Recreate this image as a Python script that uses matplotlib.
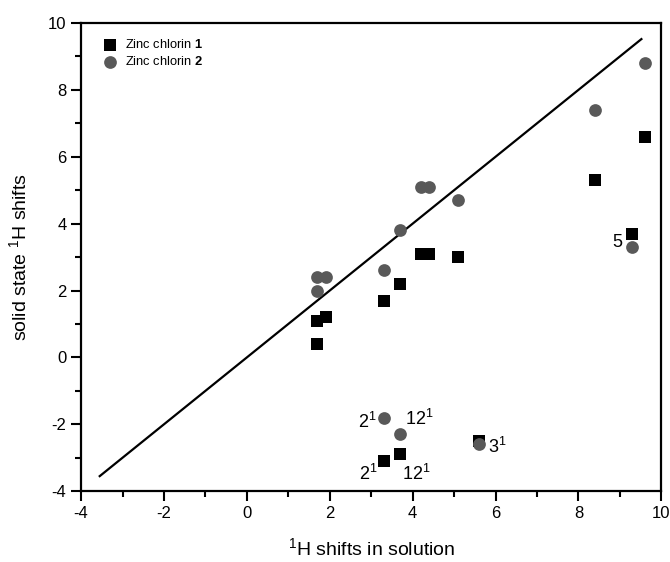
import numpy as np
import matplotlib
matplotlib.use('Agg')
import matplotlib.pyplot as plt

plt.rcParams['font.family'] = ['Liberation Sans', 'DejaVu Sans']
plt.rcParams['mathtext.fontset'] = 'custom'
plt.rcParams['mathtext.rm'] = 'Liberation Sans'
plt.rcParams['mathtext.bf'] = 'Liberation Sans:bold'
plt.rcParams['axes.unicode_minus'] = False

# Zinc chlorin 1 (squares)
x1 = [1.7, 1.7, 1.9, 3.3, 3.7, 4.2, 4.4, 5.1, 8.4, 9.6, 9.3, 3.3, 3.7, 5.6]
y1 = [0.4, 1.1, 1.2, 1.7, 2.2, 3.1, 3.1, 3.0, 5.3, 6.6, 3.7, -3.1, -2.9, -2.5]

# Zinc chlorin 2 (circles)
x2 = [1.7, 1.7, 1.9, 3.3, 3.7, 4.2, 4.4, 5.1, 8.4, 9.6, 9.3, 3.3, 3.7, 5.6]
y2 = [2.0, 2.4, 2.4, 2.6, 3.8, 5.1, 5.1, 4.7, 7.4, 8.8, 3.3, -1.8, -2.3, -2.6]

# y = x reference line range
diag = [-3.55, 9.52]

# labelled points: (text, x, y, offset in points, ha)
labels = [
    ('$2^1$', 3.3, -1.8, (-5, -3), 'right'),
    ('$12^1$', 3.7, -2.3, (3.5, 11), 'left'),
    ('$2^1$', 3.3, -3.1, (-4, -9.5), 'right'),
    ('$12^1$', 3.7, -2.9, (1, -14), 'left'),
    ('$3^1$', 5.6, -2.6, (6.5, -2), 'left'),
    ('5', 9.3, 3.7, (-7, -6.5), 'right'),
]

fig = plt.figure(figsize=(6.7, 5.62), dpi=100)
ax = fig.add_axes([0.121, 0.126, 0.866, 0.833])

ax.plot(diag, diag, color='black', lw=1.6, zorder=2)
ax.scatter(x1, y1, marker='s', s=64, color='black', linewidths=0, zorder=3,
           label='Zinc chlorin $\\mathbf{1}$')
ax.scatter(x2, y2, marker='o', s=84, color='#595959', linewidths=0, zorder=3,
           label='Zinc chlorin $\\mathbf{2}$')

for txt, x, y, off, ha in labels:
    ax.annotate(txt, xy=(x, y), xytext=off, textcoords='offset points',
                ha=ha, va='center', fontsize=13)

ax.set_xlim(-4, 10)
ax.set_ylim(-4, 10)
ax.set_xticks(np.arange(-4, 11, 2))
ax.set_yticks(np.arange(-4, 11, 2))
ax.set_xticks(np.arange(-3, 10, 2), minor=True)
ax.set_yticks(np.arange(-3, 10, 2), minor=True)
ax.tick_params(which='major', direction='out', length=7, width=1.5, labelsize=12)
ax.tick_params(which='minor', direction='out', length=4, width=1.5)
for sp in ax.spines.values():
    sp.set_linewidth(1.6)

ax.set_xlabel('$^1$H shifts in solution', fontsize=14, labelpad=12)
ax.set_ylabel('solid state $^1$H shifts', fontsize=14, labelpad=12)

ax.legend(loc='upper left', bbox_to_anchor=(0.015, 0.995), frameon=False,
          fontsize=9.3, handletextpad=0.5, labelspacing=0.3, borderpad=0.5,
          scatterpoints=1, handlelength=1.2)

fig.savefig('out.png', dpi=100)
